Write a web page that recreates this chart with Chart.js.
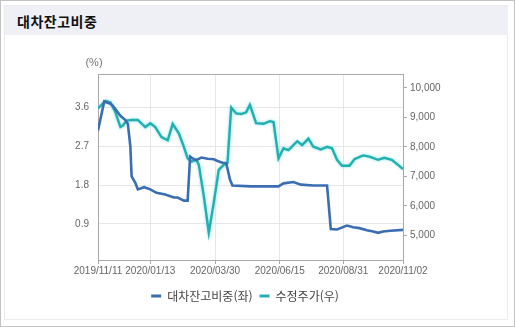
<!DOCTYPE html>
<html lang="ko">
<head>
<meta charset="utf-8">
<title>대차잔고비중</title>
<script src="https://cdn.jsdelivr.net/npm/chart.js@4.4.1/dist/chart.umd.min.js"></script>
<style>
  html, body { margin: 0; padding: 0; background: #fff; }
  .frame {
    position: relative;
    width: 515px; height: 327px;
    box-sizing: border-box;
    border: 1px solid #c2c2c2;
    overflow: hidden;
  }
  .panel {
    position: absolute;
    left: 3px; top: 4px; width: 504px; height: 315px;
    box-sizing: border-box;
    border: 1px solid #ebebeb;
  }
  .title-bar {
    position: absolute;
    left: 4px; top: 5px; width: 503px; height: 29px;
    background: #eef0f6;
  }
  .title-bar span {
    position: absolute;
    left: 12px; top: 5px;
    font: bold 14px "Noto Sans CJK KR", sans-serif;
    letter-spacing: 0.5px;
    color: #111;
  }
  #chart { position: absolute; left: 0; top: 0; }
</style>
</head>
<body>
<div class="frame">
  <div class="panel"></div>
  <div class="title-bar"><span>대차잔고비중</span></div>
  <canvas id="chart" width="515" height="327"></canvas>
</div>

<script>
// trading-day offsets from 2019/11/11
const tickDays = [0, 42, 94, 146, 197, 245];
const tickLabels = ['2019/11/11', '2020/01/13', '2020/03/30', '2020/06/15', '2020/08/31', '2020/11/02'];

// 대차잔고비중 (%), left axis
const lendDays = [0, 5, 10, 12, 18, 22, 24, 26, 27, 30, 32, 37, 42, 47, 54, 61, 64, 69, 72, 74,
  76, 79, 83, 88, 93, 96, 100, 103, 106, 108, 123, 145, 149, 157, 163, 173, 184, 187, 192, 200,
  205, 210, 216, 221, 225, 229, 235, 245];
const lendRatio = [3.07, 3.74, 3.69, 3.64, 3.41, 3.31, 3.22, 2.69, 2.00, 1.85, 1.70, 1.75, 1.70, 1.62, 1.58, 1.51, 1.51, 1.44, 1.44, 2.46,
  2.42, 2.38, 2.44, 2.41, 2.40, 2.36, 2.32, 2.31, 1.93, 1.79, 1.77, 1.77, 1.84, 1.87, 1.81, 1.79, 1.79, 0.78, 0.77, 0.86,
  0.82, 0.80, 0.75, 0.72, 0.69, 0.72, 0.74, 0.76];

// 수정주가 (원), right axis
const priceDays = [0, 6, 10, 14, 18, 20, 23, 27, 32, 38, 42, 46, 51, 56, 60, 65, 69, 72, 75, 79,
  81, 85, 89, 93, 97, 101, 104, 107, 111, 115, 119, 122, 127, 133, 138, 141, 145, 149, 153, 160,
  164, 169, 173, 179, 184, 188, 192, 196, 202, 206, 213, 218, 225, 230, 236, 241, 245];
const price = [9300, 9560, 9500, 9170, 8670, 8720, 8890, 8910, 8910, 8670, 8800, 8670, 8330, 8220, 8780, 8450, 8000, 7610, 7500, 7560,
  7390, 6330, 5090, 6110, 7220, 7390, 7450, 9330, 9130, 9110, 9170, 9420, 8800, 8780, 8870, 8840, 7610, 7950, 7890, 8190,
  8060, 8280, 8000, 7910, 8000, 7950, 7560, 7360, 7360, 7580, 7710, 7670, 7560, 7630, 7560, 7390, 7250];

const leftTicks = [0.9, 1.8, 2.7, 3.6];
const rightTicks = [5000, 6000, 7000, 8000, 9000, 10000];

const BLUE = '#3b6db3';
const TEAL = '#24afaf';
const FONT = '"Liberation Sans", Arial, sans-serif';

const toPoints = (xs, ys) => xs.map((x, i) => ({ x: x, y: ys[i] }));

// frame line along the top of the plot and the "(%)" unit label
const plotFrame = {
  id: 'plotFrame',
  beforeDatasetsDraw(chart) {
    const { ctx, chartArea: a } = chart;
    ctx.save();
    ctx.strokeStyle = '#a9a9a9';
    ctx.lineWidth = 1;
    ctx.beginPath();
    ctx.moveTo(a.left, Math.round(a.top) + 0.5);
    ctx.lineTo(a.right, Math.round(a.top) + 0.5);
    ctx.stroke();
    ctx.fillStyle = '#777';
    ctx.font = '11px ' + FONT;
    ctx.textAlign = 'center';
    ctx.textBaseline = 'middle';
    ctx.fillText('(%)', a.left - 4, a.top - 11);
    ctx.restore();
  }
};

// soft cyan halo around the price line
const lineGlow = {
  id: 'lineGlow',
  beforeDatasetDraw(chart, args) {
    if (args.index !== 1) return;
    chart.ctx.save();
    chart.ctx.shadowColor = 'rgba(110, 225, 230, 0.9)';
    chart.ctx.shadowBlur = 3;
  },
  afterDatasetDraw(chart, args) {
    if (args.index !== 1) return;
    chart.ctx.restore();
  }
};

new Chart(document.getElementById('chart'), {
  type: 'line',
  data: {
    datasets: [{
      label: '대차잔고비중(좌)',
      data: toPoints(lendDays, lendRatio),
      yAxisID: 'y',
      borderColor: BLUE,
      backgroundColor: BLUE,
      borderWidth: 2.6,
      pointRadius: 0,
      tension: 0
    }, {
      label: '수정주가(우)',
      data: toPoints(priceDays, price),
      yAxisID: 'y1',
      borderColor: TEAL,
      backgroundColor: TEAL,
      borderWidth: 2.4,
      pointRadius: 0,
      tension: 0
    }]
  },
  options: {
    responsive: false,
    animation: false,
    layout: { padding: { top: 73, right: 27, bottom: 16, left: 0 } },
    plugins: {
      legend: {
        position: 'bottom',
        labels: {
          boxWidth: 10,
          boxHeight: 3,
          padding: 7,
          color: '#444',
          font: { family: '"Noto Sans CJK KR", sans-serif', size: 12 },
          generateLabels(chart) {
            const items = Chart.defaults.plugins.legend.labels.generateLabels(chart);
            items.forEach(it => { it.lineWidth = 0; it.fillStyle = it.strokeStyle; });
            return items;
          }
        }
      },
      tooltip: { enabled: false }
    },
    scales: {
      x: {
        type: 'linear',
        min: 0,
        max: 245,
        afterBuildTicks: s => { s.ticks = tickDays.map(v => ({ value: v })); },
        afterFit: s => { s.height = 23; },
        ticks: {
          padding: 1,
          maxRotation: 0,
          autoSkip: false,
          color: '#666',
          font: { family: FONT, size: 10 },
          callback: v => tickLabels[tickDays.indexOf(v)]
        },
        grid: { color: '#e6e6e6', tickColor: '#a9a9a9', tickLength: 4 },
        border: { color: '#a9a9a9' }
      },
      y: {
        position: 'left',
        min: 0.06,
        max: 4.38,
        afterBuildTicks: s => { s.ticks = leftTicks.map(v => ({ value: v })); },
        afterFit: s => { s.width = 97; },
        ticks: {
          padding: 9,
          color: '#666',
          font: { family: FONT, size: 10 },
          callback: v => v.toFixed(1)
        },
        grid: { color: '#e6e6e6', drawTicks: false },
        border: { color: '#a9a9a9' }
      },
      y1: {
        position: 'right',
        min: 4167,
        max: 10467,
        afterBuildTicks: s => { s.ticks = rightTicks.map(v => ({ value: v })); },
        afterFit: s => { s.width = 86; },
        ticks: {
          padding: 3,
          color: '#666',
          font: { family: FONT, size: 10 },
          callback: v => v.toLocaleString('en-US')
        },
        grid: { drawOnChartArea: false, tickColor: '#a9a9a9', tickLength: 4 },
        border: { color: '#a9a9a9' }
      }
    }
  },
  plugins: [plotFrame, lineGlow]
});
</script>
</body>
</html>
